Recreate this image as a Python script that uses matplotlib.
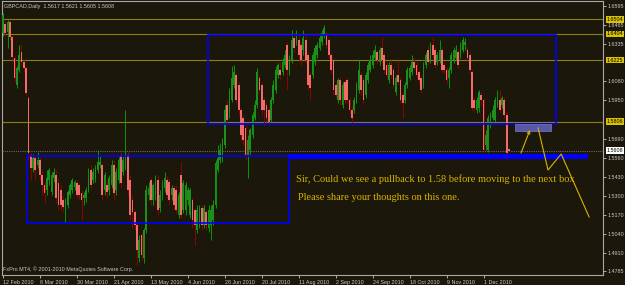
import matplotlib
matplotlib.use("Agg")
import matplotlib.pyplot as plt
import matplotlib.transforms as mtransforms
from matplotlib.patches import Rectangle
import numpy as np

# daily GBPCAD candles, 12 Feb 2010 .. mid Dec 2010
opens = [
    1.6411, 1.6472, 1.6417, 1.6486, 1.6383, 1.6240, 1.6055, 1.6158, 1.6281, 1.6213,
    1.6172, 1.5967, 1.5577, 1.5489, 1.5557, 1.5509, 1.5543, 1.5441, 1.5372, 1.5338,
    1.5407, 1.5325, 1.5420, 1.5441, 1.5386, 1.5338, 1.5270, 1.5202, 1.5236, 1.5304,
    1.5338, 1.5359, 1.5386, 1.5372, 1.5318, 1.5284, 1.5284, 1.5338, 1.5475, 1.5407,
    1.5420, 1.5475, 1.5509, 1.5509, 1.5338, 1.5372, 1.5338, 1.5372, 1.5509, 1.5338,
    1.5407, 1.5577, 1.5461, 1.5489, 1.5577, 1.5407, 1.5270, 1.5188, 1.5099, 1.4874,
    1.5031, 1.4874, 1.5065, 1.5304, 1.5407, 1.5270, 1.5304, 1.5407, 1.5215, 1.5304,
    1.5352, 1.5407, 1.5393, 1.5304, 1.5352, 1.5338, 1.5168, 1.5441, 1.5202, 1.5202,
    1.5270, 1.5168, 1.5270, 1.5202, 1.5065, 1.5099, 1.5215, 1.5099, 1.5188, 1.5079,
    1.5099, 1.5133, 1.5236, 1.5475, 1.5543, 1.5557, 1.5646, 1.5919, 1.5871, 1.5953,
    1.6055, 1.6124, 1.6055, 1.5885, 1.5830, 1.5762, 1.5577, 1.5611, 1.5714, 1.5830,
    1.5919, 1.6103, 1.6055, 1.5953, 1.5919, 1.5885, 1.5816, 1.5953, 1.6021, 1.6124,
    1.6158, 1.6144, 1.6192, 1.6329, 1.6158, 1.6226, 1.6376, 1.6349, 1.6363, 1.6329,
    1.6294, 1.6363, 1.6260, 1.6124, 1.6124, 1.6213, 1.6260, 1.6308, 1.6349, 1.6397,
    1.6397, 1.6363, 1.6260, 1.6226, 1.6055, 1.5953, 1.6090, 1.5919, 1.6076, 1.6090,
    1.5953, 1.5885, 1.5885, 1.5953, 1.6021, 1.6124, 1.6090, 1.5987, 1.6090, 1.6158,
    1.6192, 1.6240, 1.6281, 1.6213, 1.6308, 1.6260, 1.6192, 1.6090, 1.6192, 1.6158,
    1.6008, 1.6124, 1.6090, 1.5987, 1.5953, 1.6055, 1.6103, 1.6144, 1.6213, 1.6192,
    1.6144, 1.6103, 1.6055, 1.6192, 1.6294, 1.6226, 1.6329, 1.6294, 1.6213, 1.6226,
    1.6294, 1.6192, 1.6158, 1.6103, 1.6158, 1.6226, 1.6240, 1.6281, 1.6260, 1.6294,
    1.6329, 1.6294, 1.6260, 1.6144, 1.5953, 1.5885, 1.5898, 1.5987, 1.5953, 1.5646,
    1.5611, 1.5782, 1.5830, 1.5816, 1.5919, 1.5953, 1.5919, 1.5953, 1.5851, 1.5617,
]
highs = [
    1.6547, 1.6486, 1.6499, 1.6499, 1.6397, 1.6254, 1.6185, 1.6329, 1.6335, 1.6226,
    1.6185, 1.5980, 1.5591, 1.5584, 1.5577, 1.5598, 1.5564, 1.5475, 1.5393, 1.5475,
    1.5489, 1.5461, 1.5489, 1.5475, 1.5420, 1.5372, 1.5304, 1.5284, 1.5338, 1.5386,
    1.5420, 1.5407, 1.5407, 1.5386, 1.5338, 1.5325, 1.5359, 1.5489, 1.5509, 1.5489,
    1.5509, 1.5611, 1.5577, 1.5530, 1.5461, 1.5407, 1.5441, 1.5543, 1.5543, 1.5489,
    1.5564, 1.5598, 1.5577, 1.5885, 1.5598, 1.5441, 1.5304, 1.5202, 1.5120, 1.5031,
    1.5051, 1.5079, 1.5372, 1.5393, 1.5420, 1.5386, 1.5441, 1.5441, 1.5338, 1.5407,
    1.5461, 1.5434, 1.5420, 1.5372, 1.5372, 1.5372, 1.5325, 1.5530, 1.5407, 1.5393,
    1.5359, 1.5352, 1.5290, 1.5215, 1.5236, 1.5236, 1.5236, 1.5236, 1.5202, 1.5236,
    1.5236, 1.5270, 1.5543, 1.5646, 1.5659, 1.5693, 1.5919, 1.5953, 1.6035, 1.6185,
    1.6192, 1.6144, 1.6076, 1.5898, 1.5851, 1.5782, 1.5714, 1.5762, 1.5871, 1.5953,
    1.6172, 1.6124, 1.6076, 1.5973, 1.5939, 1.5898, 1.5973, 1.6090, 1.6185, 1.6206,
    1.6213, 1.6240, 1.6294, 1.6349, 1.6260, 1.6431, 1.6411, 1.6431, 1.6397, 1.6349,
    1.6431, 1.6390, 1.6281, 1.6144, 1.6281, 1.6329, 1.6349, 1.6397, 1.6431, 1.6465,
    1.6417, 1.6383, 1.6281, 1.6240, 1.6076, 1.6103, 1.6110, 1.6076, 1.6090, 1.6110,
    1.5973, 1.5905, 1.5973, 1.6076, 1.6226, 1.6144, 1.6103, 1.6144, 1.6213, 1.6260,
    1.6294, 1.6329, 1.6294, 1.6315, 1.6383, 1.6281, 1.6213, 1.6213, 1.6226, 1.6178,
    1.6124, 1.6226, 1.6110, 1.6008, 1.6076, 1.6178, 1.6192, 1.6260, 1.6240, 1.6213,
    1.6158, 1.6124, 1.6213, 1.6281, 1.6329, 1.6349, 1.6383, 1.6315, 1.6281, 1.6363,
    1.6315, 1.6213, 1.6178, 1.6178, 1.6281, 1.6315, 1.6329, 1.6294, 1.6349, 1.6383,
    1.6376, 1.6315, 1.6281, 1.6158, 1.5973, 1.5973, 1.6021, 1.6008, 1.5967, 1.5748,
    1.5851, 1.5871, 1.5919, 1.5973, 1.6021, 1.6021, 1.5980, 1.5973, 1.5871, 1.5621,
]
lows = [
    1.6390, 1.6390, 1.6308, 1.6363, 1.6226, 1.6076, 1.6035, 1.6144, 1.6192, 1.6144,
    1.5987, 1.5543, 1.5407, 1.5461, 1.5407, 1.5489, 1.5407, 1.5304, 1.5250, 1.5304,
    1.5372, 1.5304, 1.5393, 1.5250, 1.5202, 1.5202, 1.5188, 1.5120, 1.5215, 1.5284,
    1.5318, 1.5338, 1.5284, 1.5270, 1.5133, 1.5236, 1.5256, 1.5325, 1.5352, 1.5386,
    1.5393, 1.5454, 1.5489, 1.5270, 1.5304, 1.5284, 1.5304, 1.5352, 1.5270, 1.5304,
    1.5386, 1.5352, 1.5441, 1.5475, 1.5304, 1.5133, 1.5079, 1.5065, 1.4826, 1.4847,
    1.4860, 1.4840, 1.5045, 1.5270, 1.5236, 1.5236, 1.5270, 1.5168, 1.5188, 1.5270,
    1.5325, 1.5284, 1.5236, 1.5270, 1.5202, 1.5181, 1.5147, 1.5147, 1.5181, 1.5168,
    1.5236, 1.5147, 1.5079, 1.4963, 1.5045, 1.5079, 1.5065, 1.5079, 1.5065, 1.5051,
    1.4997, 1.5099, 1.5215, 1.5461, 1.5523, 1.5530, 1.5625, 1.5782, 1.5830, 1.5939,
    1.6035, 1.5926, 1.5851, 1.5680, 1.5646, 1.5543, 1.5420, 1.5577, 1.5693, 1.5816,
    1.5898, 1.6001, 1.5851, 1.5782, 1.5803, 1.5782, 1.5796, 1.5933, 1.6001, 1.6103,
    1.6090, 1.6124, 1.6172, 1.6021, 1.6124, 1.6206, 1.6281, 1.6329, 1.6226, 1.6192,
    1.6260, 1.6206, 1.6021, 1.5953, 1.6103, 1.6192, 1.6240, 1.6294, 1.6329, 1.6376,
    1.6308, 1.6240, 1.6137, 1.5987, 1.5967, 1.5933, 1.5919, 1.5898, 1.5933, 1.5933,
    1.5864, 1.5782, 1.5864, 1.5933, 1.6001, 1.5987, 1.5933, 1.5967, 1.6069, 1.6144,
    1.6172, 1.6226, 1.6206, 1.6192, 1.6206, 1.6137, 1.6103, 1.6069, 1.6103, 1.6035,
    1.5987, 1.6055, 1.5933, 1.5830, 1.5933, 1.6035, 1.6090, 1.6124, 1.6158, 1.6103,
    1.6069, 1.6001, 1.6035, 1.6172, 1.6192, 1.6206, 1.6240, 1.6172, 1.6192, 1.6206,
    1.6137, 1.6137, 1.6069, 1.6035, 1.6137, 1.6206, 1.6226, 1.6172, 1.6240, 1.6281,
    1.6294, 1.6226, 1.6137, 1.5885, 1.5871, 1.5864, 1.5871, 1.5919, 1.5598, 1.5611,
    1.5598, 1.5762, 1.5816, 1.5803, 1.5905, 1.5871, 1.5898, 1.5830, 1.5543, 1.5605,
]
closes = [
    1.6534, 1.6411, 1.6486, 1.6383, 1.6247, 1.6103, 1.6172, 1.6260, 1.6213, 1.6172,
    1.6001, 1.5591, 1.5489, 1.5557, 1.5475, 1.5543, 1.5441, 1.5372, 1.5318, 1.5420,
    1.5475, 1.5441, 1.5461, 1.5284, 1.5236, 1.5236, 1.5222, 1.5270, 1.5325, 1.5372,
    1.5407, 1.5393, 1.5304, 1.5304, 1.5270, 1.5304, 1.5338, 1.5420, 1.5372, 1.5461,
    1.5489, 1.5530, 1.5530, 1.5304, 1.5441, 1.5325, 1.5420, 1.5509, 1.5318, 1.5461,
    1.5543, 1.5386, 1.5543, 1.5577, 1.5338, 1.5168, 1.5188, 1.5099, 1.4928, 1.4997,
    1.4894, 1.5065, 1.5338, 1.5352, 1.5270, 1.5372, 1.5407, 1.5202, 1.5304, 1.5372,
    1.5420, 1.5304, 1.5270, 1.5352, 1.5236, 1.5202, 1.5304, 1.5168, 1.5386, 1.5372,
    1.5338, 1.5338, 1.5133, 1.5099, 1.5202, 1.5215, 1.5099, 1.5215, 1.5099, 1.5202,
    1.5202, 1.5236, 1.5523, 1.5557, 1.5611, 1.5680, 1.5885, 1.5816, 1.6008, 1.6103,
    1.6144, 1.5953, 1.5885, 1.5714, 1.5680, 1.5577, 1.5680, 1.5748, 1.5851, 1.5919,
    1.6144, 1.6021, 1.5885, 1.5885, 1.5830, 1.5803, 1.5953, 1.6055, 1.6158, 1.6192,
    1.6124, 1.6213, 1.6260, 1.6158, 1.6240, 1.6363, 1.6308, 1.6397, 1.6260, 1.6226,
    1.6376, 1.6226, 1.6055, 1.6035, 1.6260, 1.6308, 1.6329, 1.6376, 1.6411, 1.6445,
    1.6329, 1.6260, 1.6158, 1.6021, 1.5987, 1.6090, 1.5953, 1.6055, 1.5953, 1.5953,
    1.5885, 1.5830, 1.5953, 1.6055, 1.6158, 1.6021, 1.5953, 1.6124, 1.6192, 1.6226,
    1.6260, 1.6294, 1.6226, 1.6294, 1.6226, 1.6158, 1.6124, 1.6192, 1.6124, 1.6055,
    1.6103, 1.6076, 1.5953, 1.5933, 1.6055, 1.6158, 1.6172, 1.6213, 1.6172, 1.6124,
    1.6090, 1.6021, 1.6192, 1.6260, 1.6213, 1.6329, 1.6260, 1.6192, 1.6260, 1.6294,
    1.6158, 1.6158, 1.6090, 1.6158, 1.6260, 1.6294, 1.6294, 1.6192, 1.6329, 1.6363,
    1.6349, 1.6240, 1.6158, 1.5898, 1.5898, 1.5953, 1.6008, 1.5953, 1.5611, 1.5714,
    1.5830, 1.5851, 1.5885, 1.5953, 1.5953, 1.5885, 1.5967, 1.5851, 1.5591, 1.5608,
]

date_labels = ["12 Feb 2010", "8 Mar 2010", "30 Mar 2010", "21 Apr 2010", "13 May 2010",
               "4 Jun 2010", "28 Jun 2010", "20 Jul 2010", "11 Aug 2010", "2 Sep 2010",
               "24 Sep 2010", "18 Oct 2010", "9 Nov 2010", "1 Dec 2010"]
bars_per_label = 16

# regular scale steps (the ones under highlighted labels are covered there)
price_ticks = [1.6595, 1.6465, 1.6335, 1.6080, 1.5950, 1.5690,
               1.5560, 1.5430, 1.5300, 1.5170, 1.5040, 1.4910, 1.4785]
level_lines = [1.6504, 1.6404, 1.6225, 1.5806]
last_price = 1.5608

# drawn objects (bar index, price)
box_top = (88.7, 239.4, 1.5789, 1.6399)
box_bottom = (10.4, 123.8, 1.5115, 1.5571)
support_band = (123.8, 253.2, 1.5550, 1.5584)
target_zone = (221.4, 237.2, 1.5741, 1.5789)
arrow_from = (224.2, 1.5591)
arrow_to = (228.1, 1.5748)
path_x = [231.6, 235.9, 241.6, 253.7]
path_y = [1.5762, 1.5475, 1.5584, 1.5154]

note1 = "Sir, Could we see a pullback to 1.58 before moving to the next box"
note2 = "Please share your thoughts on this one."
title = "GBPCAD,Daily  1.5617 1.5621 1.5605 1.5608"

bg = "#1c170b"
fg = "#c8c8c8"
gold = "#d8b400"
small = dict(fontsize=3.9, family=["Liberation Sans", "DejaVu Sans"])
serif = ["Liberation Serif", "DejaVu Serif"]

fig = plt.figure(figsize=(6.25, 2.85), dpi=100, facecolor=bg)
ax = fig.add_axes([2 / 625, 10 / 285, 601 / 625, 274 / 285], facecolor=bg)

o = np.array(opens)
h = np.array(highs)
l = np.array(lows)
c = np.array(closes)
x = np.arange(len(c))
up = c >= o

# level lines
for lv in level_lines:
    ax.axhline(lv, color="#8c7d14", lw=0.8, zorder=1)
ax.axhline(last_price, color="#6a6a6a", lw=0.8, ls=(0, (1, 1)), zorder=1)

# candles
ax.vlines(x[up], l[up], h[up], color="#00b000", lw=0.6, zorder=2)
ax.vlines(x[~up], l[~up], h[~up], color="#a00000", lw=0.6, zorder=2)
ax.bar(x[up], c[up] - o[up], bottom=o[up], width=0.75, color="#1d8f1d", lw=0, zorder=3)
ax.bar(x[~up], c[~up] - o[~up], bottom=o[~up], width=0.75, color="#f26a6a", lw=0, zorder=3)

# boxes
for x0, x1, y0, y1 in (box_top, box_bottom):
    ax.add_patch(Rectangle((x0, y0), x1 - x0, y1 - y0, fill=False, ec="#0000ff", lw=1.2, zorder=4))
x0, x1, y0, y1 = support_band
ax.add_patch(Rectangle((x0, y0), x1 - x0, y1 - y0, fc="#0000ff", ec="none", zorder=4))
x0, x1, y0, y1 = target_zone
ax.add_patch(Rectangle((x0, y0), x1 - x0, y1 - y0, fc="#5858a8", ec="#7a7ac8", lw=0.5, zorder=4))

# projected path
ax.annotate("", xy=arrow_to, xytext=arrow_from,
            arrowprops=dict(arrowstyle="->", color=gold, lw=0.8, shrinkA=0, shrinkB=0,
                            mutation_scale=5), zorder=5)
ax.plot(path_x, path_y, color=gold, lw=0.8, zorder=5)

ax.text(126.8, 1.5413, note1, color=gold, fontsize=7.5, family=serif,
        va="center", ha="left", zorder=6)
ax.text(127.7, 1.5290, note2, color=gold, fontsize=7.5, family=serif,
        va="center", ha="left", zorder=6)

ax.text(0.004, 0.988, title, transform=ax.transAxes, color=fg, va="top", ha="left", **small)
ax.text(0.002, 0.022, "FxPro MT4, \u00a9 2001-2010 MetaQuotes Software Corp.", transform=ax.transAxes,
        color=fg, va="center", ha="left", **small)

ax.set_xlim(-0.43, 259.7)
ax.set_ylim(1.4758, 1.6629)

ax.yaxis.tick_right()
ax.set_yticks(price_ticks)
ax.set_yticklabels(["%.4f" % p for p in price_ticks], **small)
ax.set_xticks(np.arange(len(date_labels)) * bars_per_label)
ax.set_xticklabels(date_labels, ha="left", **small)
ax.tick_params(axis="both", colors=fg, length=2, width=0.6, pad=1.5)

for sp in ax.spines.values():
    sp.set_color("#a8a8a8")
    sp.set_linewidth(0.8)

# highlighted price labels on the scale
trans = mtransforms.blended_transform_factory(ax.transAxes, ax.transData)
for lv in level_lines:
    ax.text(1.006, lv, "%.4f" % lv, transform=trans, color="black", va="center",
            ha="left", clip_on=False, zorder=7,
            bbox=dict(boxstyle="square,pad=0.15", fc="#d8c400", ec="none"), **small)
ax.text(1.006, last_price, "%.4f" % last_price, transform=trans, color="black",
        va="center", ha="left", clip_on=False, zorder=7,
        bbox=dict(boxstyle="square,pad=0.15", fc="white", ec="none"), **small)

fig.savefig("out.png", dpi=100, facecolor=bg)
